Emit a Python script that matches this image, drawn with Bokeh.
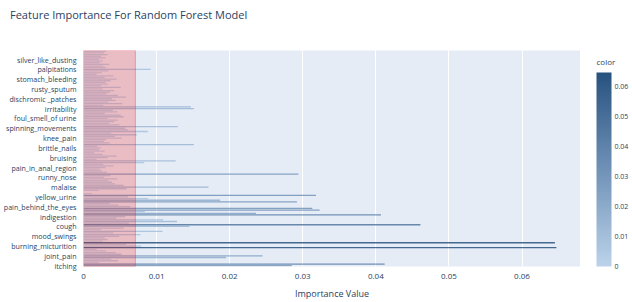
import numpy as np
from bokeh.plotting import figure
from bokeh.layouts import row, column
from bokeh.models import (ColumnDataSource, LinearColorMapper, ColorBar, FixedTicker,
                          BoxAnnotation, Range1d, NumeralTickFormatter, Div)
from bokeh.transform import transform
from bokeh.embed import file_html
from bokeh.resources import INLINE

features = [
    "itching", "skin_rash", "nodal_skin_eruptions", "continuous_sneezing", "shivering", "chills",
    "joint_pain", "stomach_pain", "acidity", "ulcers_on_tongue", "muscle_wasting", "vomiting",
    "burning_micturition", "spotting_ urination", "fatigue", "weight_gain", "anxiety",
    "cold_hands_and_feets", "mood_swings", "weight_loss", "restlessness", "lethargy",
    "patches_in_throat", "irregular_sugar_level", "cough", "high_fever", "sunken_eyes",
    "breathlessness", "sweating", "dehydration", "indigestion", "headache", "yellowish_skin",
    "dark_urine", "nausea", "loss_of_appetite", "pain_behind_the_eyes", "back_pain",
    "constipation", "abdominal_pain", "diarrhoea", "mild_fever", "yellow_urine",
    "yellowing_of_eyes", "acute_liver_failure", "fluid_overload", "swelling_of_stomach",
    "swelled_lymph_nodes", "malaise", "blurred_and_distorted_vision", "phlegm",
    "throat_irritation", "redness_of_eyes", "sinus_pressure", "runny_nose", "congestion",
    "chest_pain", "weakness_in_limbs", "fast_heart_rate", "pain_during_bowel_movements",
    "pain_in_anal_region", "bloody_stool", "irritation_in_anus", "neck_pain", "dizziness",
    "cramps", "bruising", "obesity", "swollen_legs", "swollen_blood_vessels",
    "puffy_face_and_eyes", "enlarged_thyroid", "brittle_nails", "swollen_extremeties",
    "excessive_hunger", "extra_marital_contacts", "drying_and_tingling_lips", "slurred_speech",
    "knee_pain", "hip_joint_pain", "muscle_weakness", "stiff_neck", "swelling_joints",
    "movement_stiffness", "spinning_movements", "loss_of_balance", "unsteadiness",
    "weakness_of_one_body_side", "loss_of_smell", "bladder_discomfort", "foul_smell_of urine",
    "continuous_feel_of_urine", "passage_of_gases", "internal_itching", "toxic_look_(typhos)",
    "depression", "irritability", "muscle_pain", "altered_sensorium", "red_spots_over_body",
    "belly_pain", "abnormal_menstruation", "dischromic _patches", "watering_from_eyes",
    "increased_appetite", "polyuria", "family_history", "mucoid_sputum", "rusty_sputum",
    "lack_of_concentration", "visual_disturbances", "receiving_blood_transfusion",
    "receiving_unsterile_injections", "coma", "stomach_bleeding", "distention_of_abdomen",
    "history_of_alcohol_consumption", "fluid_overload.1", "blood_in_sputum",
    "prominent_veins_on_calf", "palpitations", "painful_walking", "pus_filled_pimples",
    "blackheads", "scurring", "skin_peeling", "silver_like_dusting", "small_dents_in_nails",
    "inflammatory_nails", "blister", "red_sore_around_nose", "yellow_crust_ooze",
]

importance = [
    0.0285, 0.0412, 0.0021, 0.0047, 0.0038, 0.0195, 0.0245, 0.0052, 0.0044, 0.0031,
    0.0018, 0.0647, 0.0079, 0.0058, 0.0645, 0.0026, 0.0033, 0.0029, 0.0049, 0.0078,
    0.0041, 0.0108, 0.0024, 0.0055, 0.0145, 0.0461, 0.0062, 0.0128, 0.0109, 0.0045,
    0.0057, 0.0407, 0.0236, 0.0084, 0.0323, 0.0313, 0.0064, 0.0048, 0.0036, 0.0292,
    0.0187, 0.0088, 0.0061, 0.0318, 0.0012, 0.0000, 0.0021, 0.0059, 0.0171, 0.0055,
    0.0043, 0.0039, 0.0034, 0.0046, 0.0028, 0.0037, 0.0294, 0.0032, 0.0025, 0.0022,
    0.0030, 0.0041, 0.0027, 0.0083, 0.0126, 0.0018, 0.0033, 0.0045, 0.0026, 0.0015,
    0.0029, 0.0021, 0.0024, 0.0019, 0.0151, 0.0036, 0.0028, 0.0031, 0.0052, 0.0043,
    0.0073, 0.0038, 0.0088, 0.0061, 0.0057, 0.0129, 0.0049, 0.0035, 0.0042, 0.0047,
    0.0033, 0.0055, 0.0051, 0.0029, 0.0046, 0.0040, 0.0151, 0.0147, 0.0027, 0.0053,
    0.0034, 0.0044, 0.0039, 0.0058, 0.0047, 0.0031, 0.0036, 0.0042, 0.0026, 0.0051,
    0.0024, 0.0033, 0.0030, 0.0037, 0.0045, 0.0029, 0.0041, 0.0018, 0.0025, 0.0034,
    0.0092, 0.0031, 0.0027, 0.0035, 0.0022, 0.0026, 0.0021, 0.0030, 0.0024, 0.0033,
    0.0028, 0.0031,
]

threshold = 0.0071
x_ticks = [0, 0.01, 0.02, 0.03, 0.04, 0.05, 0.06]
label_step = 6

title_text = "Feature Importance For Random Forest Model"
x_title = "Importance Value"
cbar_title = "color"

FONT = "Open Sans"
TXT = "#2a3f5f"

idx = list(range(len(features)))
src = ColumnDataSource(dict(idx=idx, feature=features, importance=importance))
tick_idx = idx[::label_step]


def lerp(a, b, t):
    return tuple(int(round(a[k] + (b[k] - a[k]) * t)) for k in range(3))


stops = [(188, 211, 234), (112, 146, 183), (40, 82, 127)]
palette = []
for n in range(256):
    t = n / 255
    if t <= 0.5:
        c = lerp(stops[0], stops[1], t / 0.5)
    else:
        c = lerp(stops[1], stops[2], (t - 0.5) / 0.5)
    palette.append("#%02x%02x%02x" % c)

mapper = LinearColorMapper(palette=palette, low=0, high=max(importance))

HEAD = 24          # height of the title strip
TOP = 50 - HEAD    # space above the plotting frame
BOTTOM = 29        # space below the plotting frame

# ---------------- title strip ----------------
head = Div(text=('<div style="font-family:\'Open Sans\';font-size:11px;line-height:14px;'
                 'color:%s;padding:8px 0 0 10px;white-space:nowrap">%s</div>') % (TXT, title_text),
           width=632, height=HEAD, margin=(0, 0, 0, 0))

# ---------------- main chart ----------------
p = figure(width=580, height=302 - HEAD, output_backend="svg", toolbar_location=None,
           min_border_left=80, min_border_right=0, min_border_top=TOP, min_border_bottom=BOTTOM,
           x_range=Range1d(0, 0.068), y_range=Range1d(-0.5, len(features) - 0.5))

p.background_fill_color = "#E5ECF6"
p.outline_line_color = None

bars = p.hbar(y="idx", left=0, right="importance", height=0.8, source=src,
              fill_color=transform("importance", mapper), fill_alpha=0.85, line_color=None)

p.add_layout(BoxAnnotation(left=0, right=threshold, fill_color="red", fill_alpha=0.2,
                           line_color="red", line_alpha=0.3, line_width=1))

p.xaxis.ticker = FixedTicker(ticks=x_ticks)
p.xaxis.formatter = NumeralTickFormatter(format="0.[00]")
p.xaxis.axis_label = x_title
p.xaxis.axis_label_text_font = FONT
p.xaxis.axis_label_text_font_size = "9px"
p.xaxis.axis_label_text_font_style = "normal"
p.xaxis.axis_label_text_color = TXT
p.xaxis.axis_label_standoff = 5
p.xaxis.major_label_text_font = FONT
p.xaxis.major_label_text_font_size = "8px"
p.xaxis.major_label_text_color = TXT
p.xaxis.major_label_standoff = 1

p.yaxis.ticker = FixedTicker(ticks=tick_idx)
p.yaxis.major_label_overrides = {i: features[i] for i in tick_idx}
p.yaxis.major_label_text_font = FONT
p.yaxis.major_label_text_font_size = "7.1px"
p.yaxis.major_label_text_color = TXT
p.yaxis.major_label_standoff = 1

for ax in (p.xaxis[0], p.yaxis[0]):
    ax.axis_line_color = None
    ax.major_tick_line_color = None
    ax.minor_tick_line_color = None

p.xgrid.grid_line_color = "white"
p.xgrid.grid_line_width = 1
p.ygrid.grid_line_color = None

# ---------------- colour bar panel (frame aligned with the main frame) ----------------
side = figure(width=52, height=302 - HEAD, output_backend="svg", toolbar_location=None,
              x_axis_type=None, y_axis_type=None,
              x_range=Range1d(0, 1), y_range=Range1d(0, 1),
              min_border_left=16, min_border_right=0, min_border_top=TOP,
              min_border_bottom=BOTTOM)
side.outline_line_color = None
side.background_fill_color = "white"
side.border_fill_color = "white"
side.grid.grid_line_color = None
side.title.text = cbar_title
side.title.text_font = FONT
side.title.text_font_size = "8px"
side.title.text_font_style = "normal"
side.title.text_color = TXT
side.title.align = "left"
side.title.offset = 0
side.title.standoff = -33

cb = ColorBar(color_mapper=mapper, ticker=FixedTicker(ticks=x_ticks),
              formatter=NumeralTickFormatter(format="0.[00]"), orientation="vertical",
              width=15, height=194, location=(0, 0), padding=0, title=None,
              major_label_text_font=FONT, major_label_text_font_size="7px",
              major_label_text_color=TXT, label_standoff=3,
              major_tick_line_color=None, bar_line_color=None,
              background_fill_color=None, border_line_color=None)
side.add_layout(cb)

layout = column(head, row(p, side))
open("out.html", "w").write(file_html(layout, INLINE))
